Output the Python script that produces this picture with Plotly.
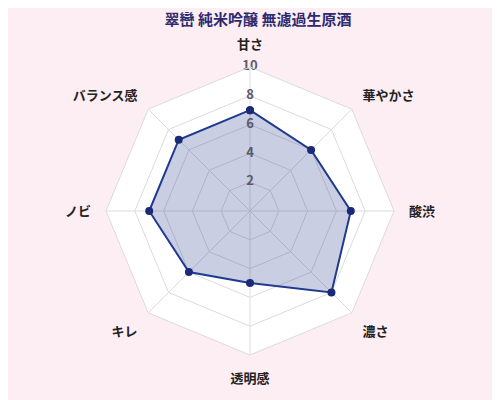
import plotly.graph_objects as go

categories = ['甘さ', '華やかさ', '酸渋', '濃さ', '透明感', 'キレ', 'ノビ', 'バランス感']
scores = [7, 6, 7, 8, 5, 6, 7, 7]
radial_ticks = [2, 4, 6, 8, 10]
title_text = '翠巒 純米吟醸 無濾過生原酒'

FONT = 'Noto Sans CJK JP'

fig = go.Figure()
fig.add_trace(go.Scatterpolar(
    r=scores + scores[:1],
    theta=categories + categories[:1],
    mode='lines+markers',
    fill='toself',
    fillcolor='rgba(40, 60, 140, 0.25)',
    line=dict(color='#1f3a8f', width=2),
    marker=dict(color='#1a2a78', size=8),
    hoverinfo='skip',
))
# radial tick labels centred on the top spoke
fig.add_trace(go.Scatterpolar(
    r=radial_ticks,
    theta=[categories[0]] * len(radial_ticks),
    mode='text',
    text=[str(t) for t in radial_ticks],
    textposition='middle center',
    textfont=dict(family=FONT, size=13, color='#5a5a6a', weight='bold'),
    hoverinfo='skip',
))

fig.update_layout(
    width=500, height=400,
    paper_bgcolor='#fdeef4',
    showlegend=False,
    margin=dict(l=52, r=68, t=59, b=53),
    title=dict(text='<b>' + title_text + '</b>', x=0.5, xanchor='center',
               y=0.97, yanchor='middle',
               font=dict(family=FONT, size=15, color='#2d2a6e')),
    polar=dict(
        bgcolor='white',
        gridshape='linear',
        radialaxis=dict(
            range=[0, 10], tickvals=radial_ticks, angle=90,
            showline=False, showticklabels=False, gridcolor='#dcdcdc', ticks='',
        ),
        angularaxis=dict(
            rotation=90, direction='clockwise',
            gridcolor='#dcdcdc', linecolor='#dcdcdc',
            ticks='outside', ticklen=12, tickcolor='rgba(0,0,0,0)',
            tickfont=dict(family=FONT, size=13, color='#222222', weight='bold'),
        ),
    ),
)

fig.write_html('out.html')
